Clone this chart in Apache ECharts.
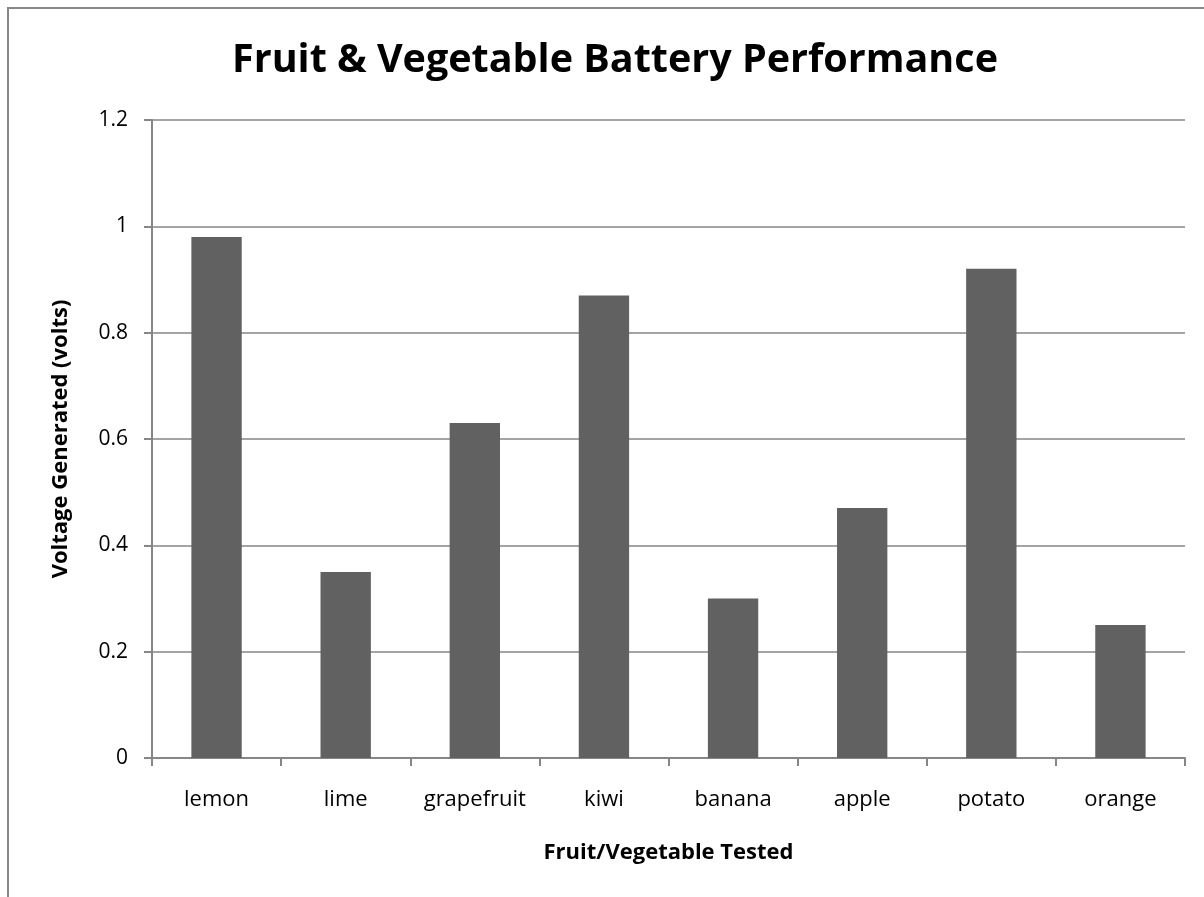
<!DOCTYPE html>
<html>
<head>
<meta charset="utf-8">
<script src="https://cdn.jsdelivr.net/npm/echarts@6/dist/echarts.min.js"></script>
<style>
  html, body { margin: 0; padding: 0; background: #fff; }
  #chart { width: 1204px; height: 897px; }
</style>
</head>
<body>
<div id="chart"></div>
<script>
// 数据
const fruits = ['lemon', 'lime', 'grapefruit', 'kiwi', 'banana', 'apple', 'potato', 'orange'];
const voltages = [0.98, 0.35, 0.63, 0.87, 0.30, 0.47, 0.92, 0.25];

const font = '"Open Sans", "Noto Sans", sans-serif';
const axisGrey = '#868686';

let myChart = echarts.init(document.getElementById('chart'));
let option = {
  backgroundColor: '#fff',
  animation: false,
  title: {
    text: 'Fruit & Vegetable Battery Performance',
    left: 610,
    top: 36,
    textAlign: 'center',
    textStyle: { fontFamily: font, fontSize: 39.5, fontWeight: 'bold', color: '#000' }
  },
  graphic: [{
    type: 'rect',
    shape: { x: 8, y: 8, width: 1400, height: 1000 },
    style: { fill: 'none', stroke: '#878787', lineWidth: 2 },
    silent: true
  }],
  grid: { left: 152, right: 19, top: 120, bottom: 139 },
  xAxis: {
    type: 'category',
    data: fruits,
    boundaryGap: true,
    name: 'Fruit/Vegetable Tested',
    nameLocation: 'middle',
    nameGap: 84,
    nameTextStyle: { fontFamily: font, fontSize: 22, fontWeight: 'bold', color: '#000' },
    axisLine: { lineStyle: { color: axisGrey, width: 2 } },
    axisTick: { show: true, alignWithLabel: false, length: 8, lineStyle: { color: axisGrey, width: 2 } },
    axisLabel: { fontFamily: font, fontSize: 22, color: '#000', margin: 31, interval: 0 }
  },
  yAxis: {
    type: 'value',
    min: 0,
    max: 1.2,
    interval: 0.2,
    name: 'Voltage Generated (volts)',
    nameLocation: 'middle',
    nameRotate: 90,
    nameGap: 80,
    nameTextStyle: { fontFamily: font, fontSize: 22, fontWeight: 'bold', color: '#000' },
    axisLine: { show: true, lineStyle: { color: axisGrey, width: 2 } },
    axisTick: { show: true, length: 8, lineStyle: { color: axisGrey, width: 2 } },
    axisLabel: {
      fontFamily: font, fontSize: 21, color: '#000', margin: 24,
      formatter: v => String(Math.round(v * 10) / 10)
    },
    splitLine: { show: true, lineStyle: { color: axisGrey, width: 1.5 } }
  },
  series: [{
    type: 'bar',
    data: voltages,
    barWidth: '39%',
    itemStyle: { color: '#616161' }
  }]
};
myChart.setOption(option);
</script>
</body>
</html>
